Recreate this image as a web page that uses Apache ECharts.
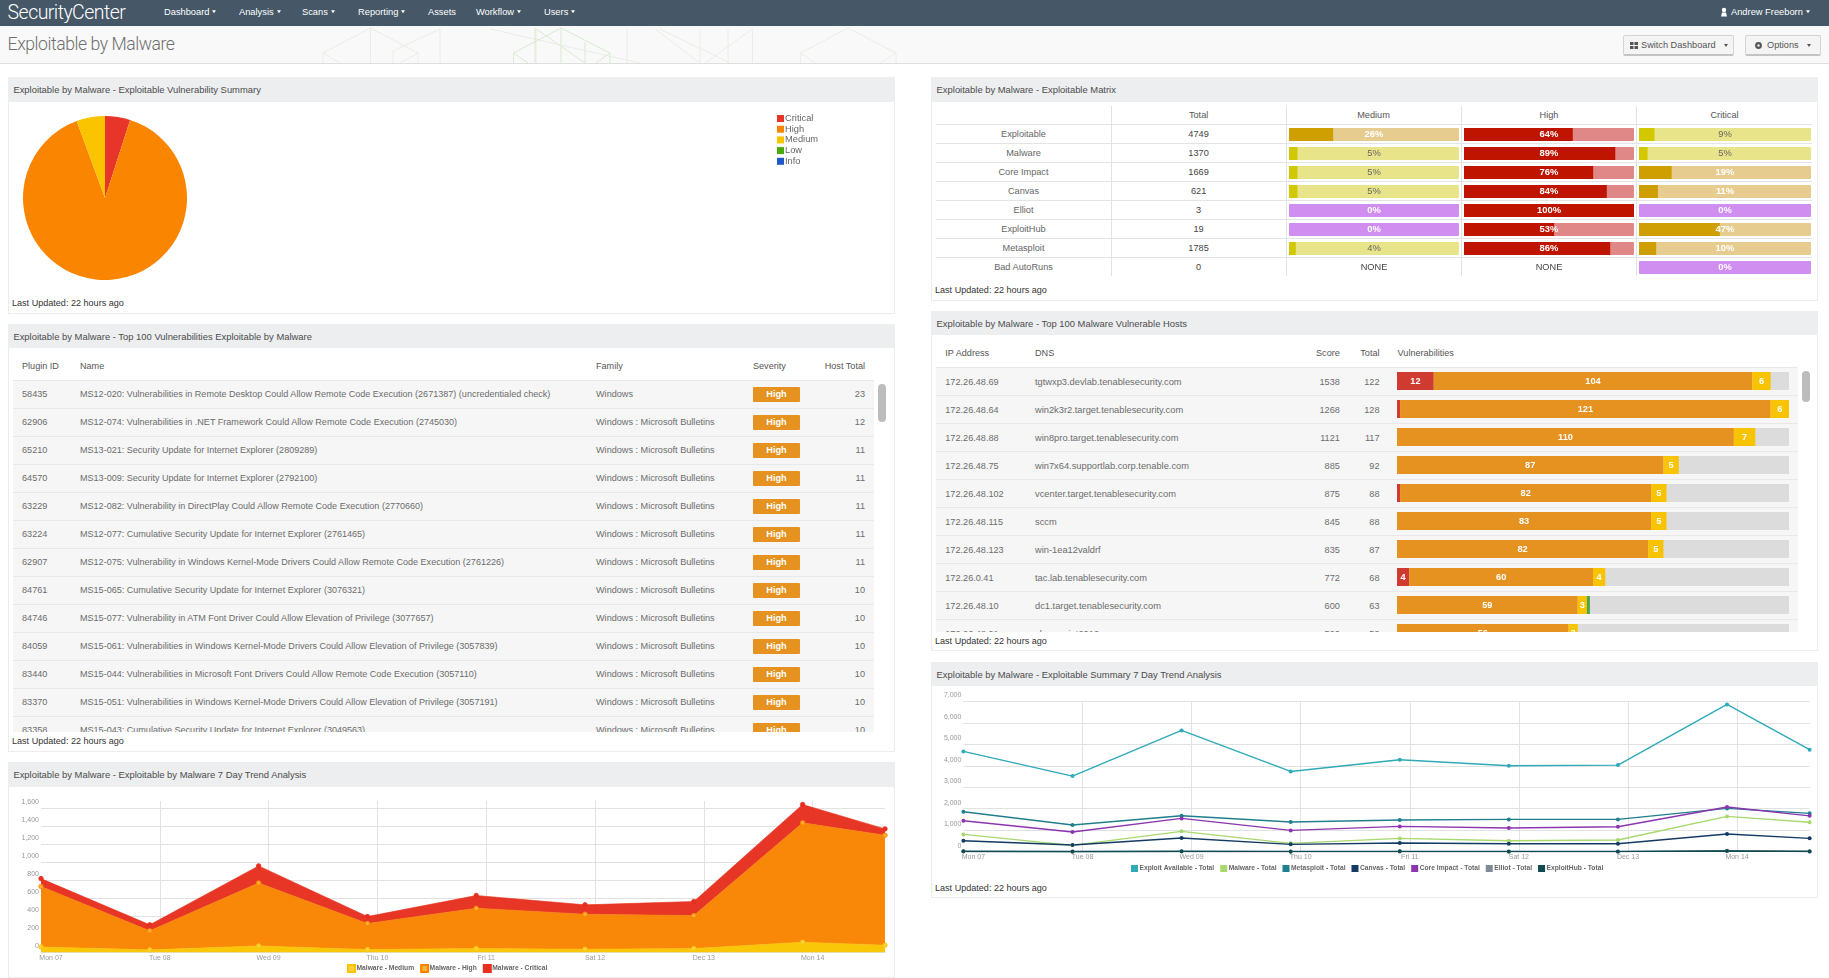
<!DOCTYPE html>
<html><head><meta charset="utf-8"><title>Exploitable by Malware</title>
<script src="https://cdn.jsdelivr.net/npm/echarts@6/dist/echarts.min.js"></script>
<style>
html,body{margin:0;padding:0;background:#fff;width:1829px;height:978px;overflow:hidden;font-family:"Liberation Sans",Arial,sans-serif;color:#555}
.abs{position:absolute}
.t{position:absolute;white-space:nowrap;line-height:1;font-size:9.2px}
.panel{position:absolute;background:#fff;border:1px solid #ececec;border-top:none;box-sizing:border-box}
.phead{position:absolute;background:#edeef0}
.caret{display:inline-block;width:0;height:0;border-left:2.5px solid transparent;border-right:2.5px solid transparent;border-top:3px solid currentColor;margin-left:3px;vertical-align:2px}
.btn{position:absolute;background:#f4f4f4;border:1px solid #d4d4d4;border-bottom:2px solid #c4c4c4;box-sizing:border-box;border-radius:2px}
.chart{position:absolute}
.clip{position:absolute;overflow:hidden}
.row{position:absolute;background:#f6f6f6;border-bottom:1px solid #e9e9e9;box-sizing:border-box}
.badge{position:absolute;background:#e59220;color:#fff;font-size:9.2px;text-align:center;line-height:15px;width:47px;height:15px;border-radius:1px;font-weight:bold}
.thumb{position:absolute;background:#bcbcbc;border-radius:4px}
</style></head><body>
<div id="page"></div>
<script>
/* ---------- text ---------- */
const navItems = ["Dashboard","Analysis","Scans","Reporting","Assets","Workflow","Users"];
const navHasCaret = [true,true,true,true,false,true,true];
const pageTitle = "Exploitable by Malware";
const updatedText = "Last Updated: 22 hours ago";
const panelTitles = [
  "Exploitable by Malware - Exploitable Vulnerability Summary",
  "Exploitable by Malware - Top 100 Vulnerabilities Exploitable by Malware",
  "Exploitable by Malware - Exploitable by Malware 7 Day Trend Analysis",
  "Exploitable by Malware - Exploitable Matrix",
  "Exploitable by Malware - Top 100 Malware Vulnerable Hosts",
  "Exploitable by Malware - Exploitable Summary 7 Day Trend Analysis"
];
/* ---------- pie ---------- */
const severityNames = ["Critical","High","Medium","Low","Info"];
const severityValues = [68,1225,77,0,0];
/* ---------- plugin table ---------- */
const pluginIds = ["58435","62906","65210","64570","63229","63224","62907","84761","84746","84059","83440","83370","83358"];
const pluginNames = [
 "MS12-020: Vulnerabilities in Remote Desktop Could Allow Remote Code Execution (2671387) (uncredentialed check)",
 "MS12-074: Vulnerabilities in .NET Framework Could Allow Remote Code Execution (2745030)",
 "MS13-021: Security Update for Internet Explorer (2809289)",
 "MS13-009: Security Update for Internet Explorer (2792100)",
 "MS12-082: Vulnerability in DirectPlay Could Allow Remote Code Execution (2770660)",
 "MS12-077: Cumulative Security Update for Internet Explorer (2761465)",
 "MS12-075: Vulnerability in Windows Kernel-Mode Drivers Could Allow Remote Code Execution (2761226)",
 "MS15-065: Cumulative Security Update for Internet Explorer (3076321)",
 "MS15-077: Vulnerability in ATM Font Driver Could Allow Elevation of Privilege (3077657)",
 "MS15-061: Vulnerabilities in Windows Kernel-Mode Drivers Could Allow Elevation of Privilege (3057839)",
 "MS15-044: Vulnerabilities in Microsoft Font Drivers Could Allow Remote Code Execution (3057110)",
 "MS15-051: Vulnerabilities in Windows Kernel-Mode Drivers Could Allow Elevation of Privilege (3057191)",
 "MS15-043: Cumulative Security Update for Internet Explorer (3049563)"
];
const pluginFamilies = ["Windows","Windows : Microsoft Bulletins","Windows : Microsoft Bulletins","Windows : Microsoft Bulletins","Windows : Microsoft Bulletins","Windows : Microsoft Bulletins","Windows : Microsoft Bulletins","Windows : Microsoft Bulletins","Windows : Microsoft Bulletins","Windows : Microsoft Bulletins","Windows : Microsoft Bulletins","Windows : Microsoft Bulletins","Windows : Microsoft Bulletins"];
const pluginHosts = [23,12,11,11,11,11,11,10,10,10,10,10,10];
/* ---------- matrix ---------- */
const matrixRows = ["Exploitable","Malware","Core Impact","Canvas","Elliot","ExploitHub","Metasploit","Bad AutoRuns"];
const matrixTotals = [4749,1370,1669,621,3,19,1785,0];
const matrixMedium = [26,5,5,5,0,0,4,null];
const matrixHigh = [64,89,76,84,100,53,86,null];
const matrixCritical = [9,5,19,11,0,47,10,0];
/* ---------- hosts ---------- */
const hostIps = ["172.26.48.69","172.26.48.64","172.26.48.88","172.26.48.75","172.26.48.102","172.26.48.115","172.26.48.123","172.26.0.41","172.26.48.10","172.26.48.91"];
const hostDns = ["tgtwxp3.devlab.tenablesecurity.com","win2k3r2.target.tenablesecurity.com","win8pro.target.tenablesecurity.com","win7x64.supportlab.corp.tenable.com","vcenter.target.tenablesecurity.com","sccm","win-1ea12valdrf","tac.lab.tenablesecurity.com","dc1.target.tenablesecurity.com","sharepoint2012"];
const hostScores = [1538,1268,1121,885,875,845,835,772,600,590];
const hostTotals = [122,128,117,92,88,88,87,68,63,59];
const hostCritical = [12,1,0,0,1,0,0,4,0,0];
const hostHigh = [104,121,110,87,82,83,82,60,59,56];
const hostMedium = [6,6,7,5,5,5,5,4,3,3];
const hostLow = [0,0,0,0,0,0,0,0,1,0];
/* ---------- trends ---------- */
const trendDays = [-0.092,0.908,1.908,2.908,3.908,4.908,5.908,6.908,7.665];
const dayTicks = [0,1,2,3,4,5,6,7];
const dayLabels = ["Mon 07","Tue 08","Wed 09","Thu 10","Fri 11","Sat 12","Dec 13","Mon 14"];
const malwareMedium = [59,26,70,30,41,33,41,111,78];
const malwareHigh = [671,211,700,289,448,389,366,1326,1222];
const malwareCritical = [88,67,189,77,141,104,156,204,70];
const exploitTotal = [4667,3519,5643,3736,4279,4000,4031,6853,4749];
const malwareTotal = [806,295,946,388,620,512,543,1643,1370];
const metasploitTotal = [1860,1240,1674,1380,1473,1504,1504,2016,1785];
const canvasTotal = [512,310,636,341,403,372,372,822,621];
const coreImpactTotal = [1442,915,1550,992,1178,1100,1163,2078,1669];
const elliotTotal = [4,3,5,3,4,3,3,46,3];
const exploitHubTotal = [20,12,22,14,16,15,15,30,19];
const yTicksArea = [0,200,400,600,800,1000,1200,1400,1600];
const yTicksLine = [0,1000,2000,3000,4000,5000,6000,7000];

/* ---------- page chrome ---------- */
const page = document.getElementById('page');
function box(cls,x,y,w,h,css,parent){const d=document.createElement('div');d.className=cls;
  d.style.cssText=`left:${x}px;top:${y}px;width:${w}px;height:${h}px;`+(css||'');(parent||page).appendChild(d);return d;}
function txt(x,y,s,o,parent){o=o||{};const d=document.createElement('div');d.className='t';d.textContent=s;
  const tx=o.align==='center'?'-50%':o.align==='right'?'-100%':'0';
  d.style.cssText=`left:${x}px;top:${y}px;transform:translate(${tx},-50%);`+(o.css||'');(parent||page).appendChild(d);return d;}

box('abs',0,0,1829,26,'background:#465768');
box('abs',0,26,1829,37,'background:#f9f9f9;border-bottom:1px solid #dedede;box-sizing:content-box');
txt(7.6,12.5,"SecurityCenter",{css:"font-family:Roboto,'Liberation Sans';font-weight:300;font-size:19.5px;letter-spacing:-.55px;color:#fff"});
const navX=[164,239,302,358,428,476,544];
navItems.forEach((n,i)=>{const d=txt(navX[i],12.7,n,{css:'font-size:9.3px;color:#fff;'});
  if(navHasCaret[i]){const c=document.createElement('span');c.className='caret';d.appendChild(c);}});
const userT=txt(1731,12.7,"Andrew Freeborn",{css:'font-size:9.3px;color:#fff;'});
{const c=document.createElement('span');c.className='caret';userT.appendChild(c);}
const decor=document.createElementNS('http://www.w3.org/2000/svg','svg');
decor.setAttribute('style','position:absolute;left:0;top:26px;width:1829px;height:37px');
decor.innerHTML=`<g fill="none" stroke="#e9eee6" stroke-width="1">
<path d="M323 37V27L370.5 2 418 27V37M370.5 2V37M323 27L340 37M418 27L400 37M393 37V25L440 3M440 3V37"/>
<path d="M490 3L640 37M536 3V37M627 3V37"/>
<path d="M655 3L700 37M700 37V3M728 3V37M752.5 3V37M752.5 3L705 37M660 3L730 37"/>
<path d="M800.6 37V27L848 2 896 27V37M800.6 27L815 37M896 27L880 37"/></g>
<g fill="none" stroke="#d9ebd2" stroke-width="1"><path d="M513.5 37V27L561 2 610 27V37M561 2V37M513.5 27L528 37M610 27L596 37M535 2V37M535 2L585 37M585 16V37"/></g>`;
page.appendChild(decor);
txt(7.6,45,pageTitle,{css:"font-family:Roboto,'Liberation Sans';font-weight:300;font-size:17.6px;letter-spacing:-.45px;color:#6f6f6f"});
box('btn',1623,35,111,21);
box('btn',1745,35,76,21);
txt(1641,45.5,"Switch Dashboard",{css:'font-size:9.2px;color:#555'});
txt(1767,45.5,"Options",{css:'font-size:9.2px;color:#555'});
{[0,1].forEach(i=>{const c=document.createElement('span');c.className='caret';
  c.style.cssText='position:absolute;margin:0;color:#555;top:43.5px;left:'+(i?1807:1724)+'px';page.appendChild(c);});
 const g=document.createElementNS('http://www.w3.org/2000/svg','svg');
 g.setAttribute('style','position:absolute;left:0;top:0;width:1829px;height:60px');
 g.innerHTML='<g fill="#555"><rect x="1630" y="42" width="3.5" height="3"/><rect x="1634.5" y="42" width="3.5" height="3"/><rect x="1630" y="46" width="3.5" height="3"/><rect x="1634.5" y="46" width="3.5" height="3"/><circle cx="1758.5" cy="45.5" r="3.4"/></g><circle cx="1758.5" cy="45.5" r="1.2" fill="#f4f4f4"/><g fill="#fff"><circle cx="1724" cy="10" r="2.2"/><path d="M1722 12.5h4l1 4h-6z"/></g>';
 page.appendChild(g);}

const panels=[[8,77,887,237],[8,324,887,428],[8,762,887,216],[931,77,887,224],[931,311,887,340],[931,662,887,236]];
const headH=[25,24,25,25,24,24];
panels.forEach((p,i)=>{box('panel',p[0],p[1],p[2],p[3]);box('phead',p[0],p[1],p[2],headH[i]);
  txt(p[0]+(i<3?5.4:5.6),p[1]+headH[i]/2+.9,panelTitles[i],{css:'font-size:9.42px;color:#4c4c4c'});});
[[12,304],[12,742],[935,291],[935,642],[935,889]].forEach(q=>txt(q[0],q[1],updatedText,{css:'font-size:9.07px;color:#333'}));

/* plugin table */
const H1='color:#555;font-size:9.1px';
txt(22,367,"Plugin ID",{css:H1});txt(80,367,"Name",{css:H1});txt(596,367,"Family",{css:H1});txt(753,367,"Severity",{css:H1});txt(865,367,"Host Total",{align:'right',css:H1});
const clip1=box('clip',13,380,861,352,'border-top:1px solid #e8e8e8;box-sizing:border-box');
pluginIds.forEach((id,i)=>{const y=28*i;box('row',0,y,861,28,'',clip1);
  const c='color:#6c6c6c;font-size:9.15px';
  txt(9,y+14,id,{css:c},clip1);txt(67,y+14,pluginNames[i],{css:c+';font-size:9.06px'},clip1);txt(583,y+14,pluginFamilies[i],{css:c},clip1);
  const b=box('badge',740,y+5.7,47,15,'',clip1);b.textContent="High";
  txt(852,y+14,String(pluginHosts[i]),{align:'right',css:c},clip1);});
box('thumb',878,384,8,38);

/* matrix table */
txt(1198.6,115.5,"Total",{align:'center'});txt(1373.5,115.5,"Medium",{align:'center'});txt(1549,115.5,"High",{align:'center'});txt(1724.5,115.5,"Critical",{align:'center'});
for(let k=0;k<8;k++){box('abs',936,124+k*19,876,1,'background:#e4e4e4;height:1.2px');}
[1111,1286,1461,1636].forEach(x=>box('abs',x,106,1,170,'background:#e2e2e2'));
matrixRows.forEach((r,i)=>{const y=134.7+19*i;txt(1023.5,y,r,{align:'center',css:'color:#666'});txt(1198.6,y+.4,String(matrixTotals[i]),{align:'center',css:'color:#444'});});

/* hosts table */
txt(945.3,354,"IP Address",{css:H1});txt(1035,354,"DNS",{css:H1});txt(1339.8,354,"Score",{align:'right',css:H1});txt(1379.5,354,"Total",{align:'right',css:H1});txt(1397.6,354,"Vulnerabilities",{css:H1});
const clip2=box('clip',936,367,862,265,'border-top:1px solid #e8e8e8;box-sizing:border-box');
hostIps.forEach((ip,i)=>{const y=28*i;box('row',0,y,862,28,'',clip2);const c='color:#6c6c6c;font-size:9.15px';
  txt(9.3,y+14.5,ip,{css:c},clip2);txt(99,y+14.5,hostDns[i],{css:c+';font-size:9.3px'},clip2);
  txt(403.8,y+14.5,String(hostScores[i]),{align:'right',css:c},clip2);txt(443.5,y+14.5,String(hostTotals[i]),{align:'right',css:c},clip2);});
box('thumb',1802,371,8,31);

/* ---------- charts ---------- */
const FONT='"Liberation Sans",Arial,sans-serif';
const AX='#999', GRIDC='#e2e2e2';
function mk(parent,x,y,w,h){return echarts.init(box('chart',x,y,w,h,'',parent));}

/* pie */
mk(page,9,103,886,195).setOption({animation:false,
  color:['#e8352a','#f98500','#fac400','#4aa90e','#2058c8'],
  legend:{orient:'vertical',left:768,top:11,padding:0,itemWidth:7,itemHeight:7,itemGap:1.7,icon:'rect',selectedMode:false,
    data:severityNames,textStyle:{fontSize:9.3,color:'#666',fontFamily:FONT,padding:[0,0,0,-4]}},
  series:[{type:'pie',center:[96,95],radius:[0,82],startAngle:90,clockwise:true,silent:true,label:{show:false},labelLine:{show:false},
    minShowLabelAngle:0,stillShowZeroSum:false,itemStyle:{borderWidth:0},
    data:severityNames.map((n,i)=>({name:n,value:severityValues[i]}))}]});

/* matrix bars */
function trackColor(v,col){ if(col==='high')return '#e08888'; if(v===0)return '#d08ef0'; return v>=10?'#e6cd8f':'#e8e489'; }
function fillColor(v,col){ if(col==='high')return '#bf1500'; return v>=10?'#cf9e00':'#d2c800'; }
function labelColor(v,col){ if(col==='high'||v===0||v>=10)return '#fff'; return '#666'; }
const matCols=[['medium',matrixMedium,2,170],['high',matrixHigh,177,170],['critical',matrixCritical,352,172]];
const mGrids=[],mX=[],mY=[],mS=[];
matCols.forEach((c,k)=>{
  mGrids.push({left:c[2],width:c[3],top:0,height:152});
  mX.push({type:'value',gridIndex:k,min:0,max:100,show:false});
  mY.push({type:'category',gridIndex:k,inverse:true,data:matrixRows,show:false});
  const common={type:'bar',xAxisIndex:k,yAxisIndex:k,barWidth:13,barGap:'-100%',silent:true};
  mS.push(Object.assign({},common,{itemStyle:{borderRadius:1},data:c[1].map(v=>v==null?null:{value:100,itemStyle:{color:trackColor(v,c[0]),borderRadius:1}})}));
  mS.push(Object.assign({},common,{data:c[1].map(v=>v==null?null:{value:v,itemStyle:{color:fillColor(v,c[0])}})}));
  mS.push(Object.assign({},common,{z:5,itemStyle:{color:'rgba(0,0,0,0)'},data:c[1].map(v=>({value:100,label:{show:true,position:'inside',fontFamily:FONT,fontSize:v==null?9.2:9.4,
     fontWeight:(v!=null&&labelColor(v,c[0])==='#fff')?'bold':'normal',color:v==null?'#444':labelColor(v,c[0]),formatter:v==null?'NONE':v+'%'}}))}));
});
mk(page,1287,125,526,152).setOption({animation:false,grid:mGrids,xAxis:mX,yAxis:mY,series:mS});

/* hosts bars */
const hostBar=(name,data,color,extra)=>Object.assign({name,type:'bar',stack:'v',barWidth:18,silent:true,data,itemStyle:{color},
  label:{show:true,position:'inside',color:'#fff',fontSize:9.2,fontWeight:'bold',fontFamily:FONT,formatter:p=>p.value>=3?String(p.value):''}},extra||{});
mk(clip2,461,-1.5,391.5,280).setOption({animation:false,
  grid:{left:0,right:0,top:0,bottom:0},
  xAxis:{type:'value',min:0,max:128,show:false},
  yAxis:{type:'category',inverse:true,data:hostIps,show:false},
  series:[hostBar('Critical',hostCritical,'#cf3b30',{showBackground:true,backgroundStyle:{color:'#dcdcdc'}}),
          hostBar('High',hostHigh,'#e59220'),hostBar('Medium',hostMedium,'#f8c300'),hostBar('Low',hostLow,'#4fa64a')]});

/* trend x axes: a hidden time axis carries the data (so stacking acts on y);
   a visible day axis with the same range draws the labels and grid lines */
const DAY0=Date.UTC(2015,11,7), DAYMS=86400000;
const toTime=d=>DAY0+d*DAYMS;
const dMin=trendDays[0], dMax=trendDays[trendDays.length-1];
function trendX(){return [
 {type:'time',min:toTime(dMin),max:toTime(dMax),show:false},
 {type:'value',min:dMin,max:dMax,position:'bottom',
  axisLine:{show:true,onZero:false,lineStyle:{color:GRIDC}},
  axisTick:{show:false,customValues:dayTicks.slice(1)},
  axisLabel:{show:true,customValues:dayTicks,margin:2,fontSize:7,color:AX,fontFamily:FONT,hideOverlap:false,
    showMinLabel:true,showMaxLabel:true,formatter:v=>dayLabels[dayTicks.indexOf(v)]},
  splitLine:{show:true,lineStyle:{color:GRIDC,width:1}}}];}
function trendY(max,ticks){return {type:'value',min:0,max,
  axisLine:{show:false},axisTick:{show:false,customValues:ticks},
  axisLabel:{customValues:ticks,margin:2,fontSize:7,color:AX,fontFamily:FONT,verticalAlign:'bottom',padding:[0,0,2.5,0],
    formatter:v=>v.toLocaleString('en-US')},
  splitLine:{show:true,lineStyle:{color:GRIDC,width:1}}};}
const pts=a=>a.map((v,i)=>[toTime(trendDays[i]),v]);
const legendText={fontSize:6.7,fontWeight:'bold',color:'#666',fontFamily:FONT,padding:[0,0,0,-3.5]};

/* stacked area */
const areaSer=(name,data,color,marker)=>({name,type:'line',stack:'m',xAxisIndex:0,data:pts(data),clip:false,symbol:'circle',symbolSize:4.5,showSymbol:true,silent:true,
  lineStyle:{color,width:.6},itemStyle:{color:marker,borderColor:color,borderWidth:.8},areaStyle:{color,opacity:.97}});
mk(page,0,787,900,191).setOption({animation:false,
  color:['#fac400','#f98300','#e7301f'],
  legend:{left:347,top:177,padding:0,itemWidth:7,itemHeight:7,itemGap:6,icon:'rect',selectedMode:false,textStyle:legendText,
    data:['Malware - Medium','Malware - High','Malware - Critical']},
  grid:{left:41,right:15,top:14,height:151.2},
  xAxis:trendX(),yAxis:trendY(1680,yTicksArea),
  series:[areaSer('Malware - Medium',malwareMedium,'#fac400','#fbd040'),
          areaSer('Malware - High',malwareHigh,'#f98300','#fbb030'),
          areaSer('Malware - Critical',malwareCritical,'#e7301f','#e7301f')]});

/* multi-line */
const lineSer=(name,data,color)=>({name,type:'line',xAxisIndex:0,data:pts(data),clip:false,symbol:'circle',symbolSize:4,silent:true,
  lineStyle:{color,width:1.4},itemStyle:{color}});
mk(page,915,686,914,190).setOption({animation:false,
  color:['#2eaab9','#a8d86e','#1f7f8c','#123a63','#8c35b0','#7f8c95','#0f4a52'],
  legend:{left:216,top:179,padding:0,itemWidth:7,itemHeight:7,itemGap:6,icon:'rect',selectedMode:false,textStyle:legendText},
  grid:{left:48.4,right:19.4,top:15.3,height:150.4},
  xAxis:trendX(),yAxis:trendY(7000,yTicksLine),
  series:[lineSer('Exploit Available - Total',exploitTotal,'#2eaab9'),
          lineSer('Malware - Total',malwareTotal,'#a8d86e'),
          lineSer('Metasploit - Total',metasploitTotal,'#1f7f8c'),
          lineSer('Canvas - Total',canvasTotal,'#123a63'),
          lineSer('Core Impact - Total',coreImpactTotal,'#8c35b0'),
          lineSer('Elliot - Total',elliotTotal,'#7f8c95'),
          lineSer('ExploitHub - Total',exploitHubTotal,'#0f4a52')]});
</script></body></html>
